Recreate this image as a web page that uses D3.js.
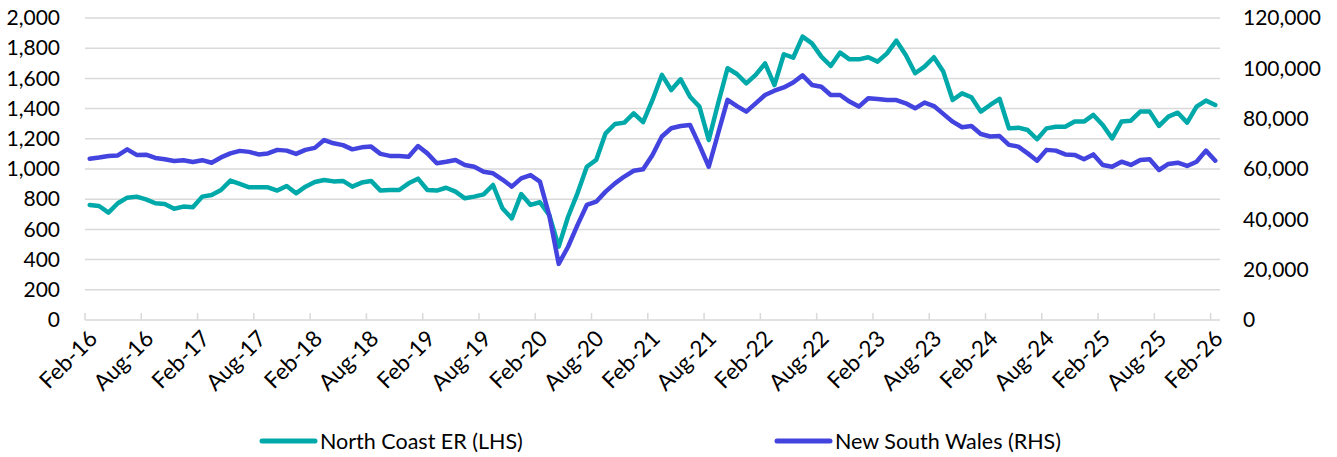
<!DOCTYPE html>
<html>
<head>
<meta charset="utf-8">
<script src="https://cdn.jsdelivr.net/npm/d3@7"></script>
<style>
  body { margin: 0; background: #fff; }
  #chart { width: 1337px; height: 457px; }
  text { font-family: Lato, "Open Sans", sans-serif; fill: #000; }
</style>
</head>
<body>
<div id="chart"></div>
<script>
// monthly, Feb-16 .. Feb-26
var startMonth = new Date(2016, 1, 1);
var endMonth = new Date(2026, 2, 1);

var seriesNames = ['North Coast ER (LHS)', 'New South Wales (RHS)'];
var seriesColors = ['#00a9a9', '#4343df'];

var northCoast = [
  762, 755, 711, 773, 810, 817, 799, 773, 768, 737, 751, 746,
  817, 828, 861, 923, 901, 879, 879, 879, 857, 887, 839, 883,
  914, 927, 918, 921, 883, 910, 921, 857, 861, 861, 905, 936,
  861, 857, 876, 850, 806, 817, 832, 894, 740, 673, 834, 762,
  780, 695, 486, 684, 839, 1015, 1060, 1236, 1298, 1307, 1369, 1310,
  1457, 1623, 1523, 1594, 1479, 1413, 1192, 1435, 1667, 1629, 1567, 1623,
  1700, 1556, 1760, 1737, 1877, 1832, 1744, 1682, 1771, 1726, 1726, 1740,
  1711, 1766, 1850, 1755, 1634, 1678, 1740, 1645, 1457, 1501, 1475, 1380,
  1424, 1465, 1269, 1274, 1258, 1197, 1269, 1280, 1280, 1314, 1314, 1358,
  1291, 1203, 1314, 1320, 1380, 1380, 1285, 1347, 1373, 1307, 1413, 1453,
  1424
];

var nsw = [
  64100, 64600, 65200, 65400, 67800, 65600, 65700, 64400, 63900, 63200, 63500, 62800,
  63500, 62500, 64600, 66200, 67200, 66800, 65800, 66200, 67600, 67300, 66000, 67600,
  68400, 71500, 70200, 69500, 67800, 68600, 68900, 66000, 65200, 65200, 64900, 69100,
  66200, 62300, 62900, 63600, 61600, 60900, 58900, 58300, 55800, 53000, 56300, 57600,
  55000, 41500, 22300, 29100, 37700, 45700, 47000, 51000, 54300, 57000, 59300, 59900,
  65600, 72900, 76200, 77100, 77500, 69500, 60900, 74200, 87500, 85000, 82800, 86100,
  89400, 91100, 92400, 94400, 97200, 93400, 92700, 89400, 89400, 86800, 84800, 88100,
  87800, 87400, 87400, 86100, 84100, 86400, 85000, 81900, 78800, 76600, 77100, 73900,
  72900, 73100, 69600, 68900, 66200, 63300, 67600, 67300, 65800, 65600, 63900, 65800,
  61600, 60900, 62900, 61600, 63600, 63900, 59600, 62000, 62500, 61200, 62900, 67300,
  63300
];

var leftTicks = [0, 200, 400, 600, 800, 1000, 1200, 1400, 1600, 1800, 2000];
var rightTicks = [0, 20000, 40000, 60000, 80000, 100000, 120000];

(function(d3){
  'use strict';

  var margin = {top: 18, right: 117, bottom: 137, left: 85};
  var width = 1337 - margin.left - margin.right;
  var height = 457 - margin.top - margin.bottom;
  var fmt = d3.format(',');
  var monthFmt = d3.timeFormat('%b-%y');

  var months = d3.timeMonth.range(startMonth, endMonth);

  var svg = d3.select('#chart').append('svg')
    .attr('width', 1337)
    .attr('height', 457);

  var g = svg.append('g')
    .attr('transform', 'translate(' + margin.left + ',' + margin.top + ')');

  var x = d3.scaleBand()
    .domain(months)
    .range([0, width])
    .padding(0);

  var yL = d3.scaleLinear().domain([0, 2000]).range([height, 0]);
  var yR = d3.scaleLinear().domain([0, 120000]).range([height, 0]);

  // gridlines
  g.append('g')
    .selectAll('line')
    .data(leftTicks.slice(1))
    .enter().append('line')
    .attr('x1', 0)
    .attr('x2', width)
    .attr('y1', function(d) { return yL(d); })
    .attr('y2', function(d) { return yL(d); })
    .attr('stroke', '#d9d9d9')
    .attr('stroke-width', 1.5);

  // x axis line + inside ticks at band starts
  g.append('line')
    .attr('x1', 0).attr('x2', width)
    .attr('y1', height).attr('y2', height)
    .attr('stroke', '#d9d9d9')
    .attr('stroke-width', 1.5);

  var tickMonths = months.filter(function(d, i) { return i % 6 === 0; });

  g.append('g')
    .selectAll('line')
    .data(tickMonths)
    .enter().append('line')
    .attr('x1', function(d) { return x(d); })
    .attr('x2', function(d) { return x(d); })
    .attr('y1', height)
    .attr('y2', height - 7)
    .attr('stroke', '#d9d9d9')
    .attr('stroke-width', 1.5);

  g.append('g')
    .selectAll('text')
    .data(tickMonths)
    .enter().append('text')
    .attr('transform', function(d) {
      return 'translate(' + (x(d) + x.bandwidth() / 2 + 9) + ',' + (height + 20) + ') rotate(-45)';
    })
    .attr('text-anchor', 'end')
    .attr('font-size', 22.5)
    .text(function(d) { return monthFmt(d); });

  // y axes
  var left = g.append('g')
    .call(d3.axisLeft(yL).tickValues(leftTicks).tickFormat(fmt).tickSize(0).tickPadding(25));
  var right = g.append('g')
    .attr('transform', 'translate(' + width + ',0)')
    .call(d3.axisRight(yR).tickValues(rightTicks).tickFormat(fmt).tickSize(0).tickPadding(23));

  [left, right].forEach(function(a) {
    a.select('.domain').remove();
    a.selectAll('text')
      .attr('font-size', 21)
      .attr('font-family', 'Lato, "Open Sans", sans-serif')
      .attr('fill', '#000');
  });

  // lines
  var cx = function(i) { return x(months[i]) + x.bandwidth() / 2; };

  var lineL = d3.line()
    .x(function(d, i) { return cx(i); })
    .y(function(d) { return yL(d); });
  var lineR = d3.line()
    .x(function(d, i) { return cx(i); })
    .y(function(d) { return yR(d); });

  g.append('path')
    .datum(northCoast)
    .attr('d', lineL)
    .attr('fill', 'none')
    .attr('stroke', seriesColors[0])
    .attr('stroke-width', 4.5)
    .attr('stroke-linejoin', 'round')
    .attr('stroke-linecap', 'round');

  g.append('path')
    .datum(nsw)
    .attr('d', lineR)
    .attr('fill', 'none')
    .attr('stroke', seriesColors[1])
    .attr('stroke-width', 4.5)
    .attr('stroke-linejoin', 'round')
    .attr('stroke-linecap', 'round');

  // legend
  var legendX = [262, 777];
  var legend = svg.append('g')
    .selectAll('g')
    .data(seriesNames)
    .enter().append('g')
    .attr('transform', function(d, i) { return 'translate(' + legendX[i] + ',441)'; });

  legend.append('line')
    .attr('x1', 0).attr('x2', 53)
    .attr('y1', 0).attr('y2', 0)
    .attr('stroke', function(d, i) { return seriesColors[i]; })
    .attr('stroke-width', 5)
    .attr('stroke-linecap', 'round');

  legend.append('text')
    .attr('x', 58)
    .attr('dy', '0.36em')
    .attr('font-size', 21.5)
    .text(function(d) { return d; });

})(window.d3);
</script>
</body>
</html>
